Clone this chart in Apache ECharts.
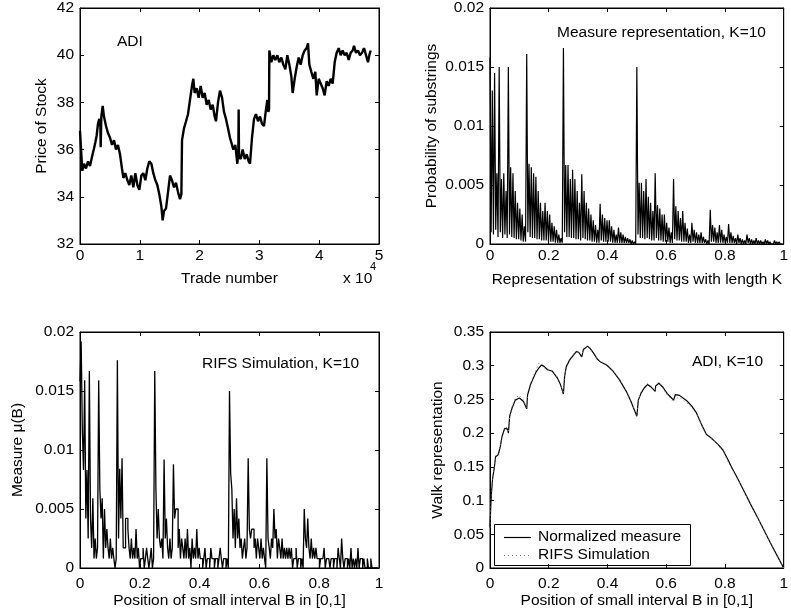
<!DOCTYPE html>
<html>
<head>
<meta charset="utf-8">
<title>ADI trade data</title>
<script src="https://cdn.jsdelivr.net/npm/echarts@6/dist/echarts.min.js"></script>
<style>html,body{margin:0;padding:0;background:#fff;}</style>
</head>
<body>
<div id="main" style="width:791px;height:614px;"></div>
<script type="text/javascript">
// ---- panel 1: ADI price vs trade number
var tradeNumber = [0,220,390,670,1000,1340,1670,2010,2340,2560,2790,3010,3230,3400,3460,3570,3790,4010,4350,4680,
  5020,5350,5690,6020,6350,6690,7020,7250,7580,7920,8250,8580,8920,9250,9590,9920,10260,10590,10930,11260,
  11590,11930,12260,12600,12930,13270,13600,13820,14050,14380,14720,15050,15380,15720,16050,16390,16720,16950,17060,17390,
  17730,18060,18390,18730,18950,19170,19510,19840,20180,20510,20850,21180,21520,21850,22190,22520,22740,23080,23410,23750,
  24080,24410,24750,25080,25310,25640,25980,26310,26480,26530,26590,26870,27200,27540,27870,28210,28430,28760,29100,29430,
  29770,30100,30430,30770,31100,31330,31490,31610,31660,32000,32330,32660,33000,33330,33670,34000,34340,34670,35010,35340,
  35560,35900,36230,36570,36900,37240,37570,37900,38130,38350,38680,39020,39350,39580,39910,40250,40580,40910,41250,41580,
  41920,42250,42590,42920,43260,43590,43920,44260,44590,44930,45260,45600,45820,46150,46490,46820,47160,47490,47830,48160,
  48380,48610];
var stockPrice = [36.8,35.8,35.1,35.4,35.2,35.5,35.3,35.7,36.05,36.3,36.6,37.1,37.3,37.0,36.1,37.4,37.85,37.4,37.0,36.7,
  36.5,36.2,36.4,36.0,36.2,35.8,35.2,34.8,35.0,34.7,34.5,34.9,34.4,35.0,34.5,34.3,34.9,35.0,34.7,35.2,
  35.5,35.4,35.0,34.7,34.5,34.1,33.6,33.0,33.4,33.5,34.2,34.9,34.7,34.4,34.6,34.2,33.9,34.1,36.4,36.9,
  37.2,37.5,38.1,38.7,39.0,38.4,38.6,38.2,38.7,38.2,38.4,37.9,38.1,37.7,37.9,37.4,37.2,38.0,38.5,38.2,
  37.6,37.3,36.9,36.5,36.3,36.0,36.2,35.4,35.9,37.7,35.7,35.6,36.0,35.6,35.8,35.5,35.4,36.5,37.3,37.5,
  37.2,37.4,37.1,37.0,37.7,38.1,37.6,37.7,40.2,39.7,40.0,39.8,40.0,39.7,39.9,39.6,39.4,40.0,39.6,39.1,
  38.4,39.0,39.5,39.9,39.6,40.0,40.2,40.3,40.5,39.6,39.3,39.0,39.3,38.3,39.0,38.8,38.6,38.3,38.9,38.7,
  39.0,38.8,39.7,40.1,40.3,40.0,40.2,40.0,40.1,39.8,40.1,40.2,40.4,40.1,40.2,40.0,40.1,40.3,40.0,39.7,
  40.0,40.2];

// ---- panel 2: measure representation, K=10 (values per bin of width 1/256)
var measureProb = [
  0.0158,0.0010,0.0130,0.0008,0.0145,0.0012,0.0060,0.0006,
  0.0150,0.0010,0.0055,0.0005,0.0060,0.0008,0.0045,0.0005,
  0.0150,0.0008,0.0065,0.0006,0.0060,0.0005,0.0045,0.0004,
  0.0035,0.0004,0.0030,0.0003,0.0025,0.0002,0.0015,0.0002,
  0.0161,0.0010,0.0068,0.0006,0.0065,0.0005,0.0060,0.0005,
  0.0057,0.0004,0.0045,0.0004,0.0035,0.0003,0.0028,0.0003,
  0.0035,0.0003,0.0028,0.0002,0.0025,0.0002,0.0018,0.0002,
  0.0015,0.0001,0.0012,0.0001,0.0008,0.0001,0.0005,0.0001,
  0.0166,0.0010,0.0067,0.0006,0.0067,0.0006,0.0055,0.0005,
  0.0063,0.0005,0.0055,0.0004,0.0045,0.0004,0.0035,0.0003,
  0.0059,0.0005,0.0045,0.0004,0.0035,0.0003,0.0030,0.0003,
  0.0025,0.0002,0.0020,0.0002,0.0016,0.0001,0.0012,0.0001,
  0.0034,0.0003,0.0025,0.0002,0.0022,0.0002,0.0020,0.0002,
  0.0020,0.0002,0.0015,0.0001,0.0012,0.0001,0.0008,0.0001,
  0.0014,0.0001,0.0010,0.0001,0.0008,0.0001,0.0006,0.0001,
  0.0005,0.0001,0.0004,0.0000,0.0003,0.0000,0.0002,0.0000,
  0.0150,0.0008,0.0052,0.0005,0.0052,0.0005,0.0045,0.0004,
  0.0055,0.0005,0.0040,0.0004,0.0035,0.0003,0.0028,0.0003,
  0.0060,0.0005,0.0033,0.0003,0.0030,0.0003,0.0025,0.0002,
  0.0025,0.0002,0.0018,0.0002,0.0014,0.0001,0.0010,0.0001,
  0.0055,0.0004,0.0032,0.0003,0.0028,0.0003,0.0022,0.0002,
  0.0028,0.0002,0.0018,0.0002,0.0013,0.0001,0.0008,0.0001,
  0.0018,0.0002,0.0012,0.0001,0.0010,0.0001,0.0008,0.0001,
  0.0010,0.0001,0.0006,0.0001,0.0004,0.0000,0.0003,0.0000,
  0.0029,0.0002,0.0016,0.0002,0.0014,0.0001,0.0010,0.0001,
  0.0016,0.0001,0.0012,0.0001,0.0008,0.0001,0.0006,0.0001,
  0.0017,0.0001,0.0010,0.0001,0.0007,0.0001,0.0005,0.0000,
  0.0008,0.0001,0.0005,0.0000,0.0004,0.0000,0.0003,0.0000,
  0.0008,0.0001,0.0005,0.0000,0.0004,0.0000,0.0003,0.0000,
  0.0005,0.0000,0.0003,0.0000,0.0003,0.0000,0.0002,0.0000,
  0.0004,0.0000,0.0003,0.0000,0.0002,0.0000,0.0001,0.0000,
  0.0003,0.0000,0.0002,0.0000,0.0002,0.0000,0.0001,0.0000];

// ---- panel 3: RIFS simulation, K=10 (bins of width 1/256)
var rifsMeasure = [
  0.0158,0.0192,0.0117,0.0083,0.0159,0.0042,0.0083,0.0025,
  0.0167,0.0042,0.0017,0.0059,0.0008,0.0025,0.0008,0.0017,
  0.0159,0.0067,0.0042,0.0059,0.0008,0.0050,0.0017,0.0033,
  0.0017,0.0008,0.0025,0.0008,0.0017,0.0008,0,0.0008,
  0.0176,0.0025,0.0084,0.0042,0.0093,0.0017,0.0017,0.0042,
  0.0042,0.0033,0.0017,0.0008,0.0025,0.0008,0.0017,0.0008,
  0.0033,0.0008,0.0017,0,0.0008,0.0008,0.0017,0,
  0.0008,0.0017,0.0008,0,0.0008,0.0017,0,0.0008,
  0.0167,0.0067,0.0025,0.0050,0.0025,0.0017,0.0025,0.0008,
  0.0092,0.0025,0.0042,0.0017,0.0008,0.0025,0.0008,0.0017,
  0.0088,0.0042,0.0050,0.0050,0.0017,0.0033,0.0008,0.0025,
  0.0017,0.0008,0.0025,0.0008,0.0033,0.0008,0.0017,0,
  0.0025,0.0008,0.0017,0.0008,0.0033,0.0008,0.0017,0.0008,
  0.0008,0,0.0008,0.0017,0,0.0008,0.0008,0,
  0.0017,0.0008,0.0008,0,0.0008,0.0008,0,0.0008,
  0.0017,0.0008,0,0.0008,0.0008,0,0.0008,0,
  0.0150,0.0080,0.0067,0.0025,0.0050,0.0017,0.0059,0.0025,
  0.0042,0.0017,0.0025,0.0008,0.0017,0.0025,0.0008,0.0017,
  0.0093,0.0033,0.0025,0.0033,0.0033,0.0017,0.0025,0.0008,
  0.0025,0.0017,0.0008,0.0025,0.0008,0.0017,0.0008,0,
  0.0093,0.0025,0.0017,0.0008,0.0025,0.0017,0.0050,0.0025,
  0.0033,0.0008,0.0025,0.0017,0.0008,0.0025,0.0008,0.0017,
  0.0008,0.0017,0.0008,0.0017,0.0008,0.0017,0,0.0008,
  0.0008,0.0017,0,0.0008,0.0008,0,0.0008,0,
  0.0050,0.0025,0.0017,0.0042,0.0017,0.0008,0.0025,0.0008,
  0.0017,0.0008,0.0017,0.0008,0.0008,0,0.0008,0.0008,
  0.0008,0.0017,0,0.0008,0.0008,0.0008,0,0.0008,
  0.0008,0,0.0008,0.0008,0,0.0017,0.0008,0,
  0.0025,0.0008,0,0.0008,0.0008,0,0.0008,0,
  0.0017,0,0.0008,0,0.0008,0,0.0017,0,
  0.0008,0.0008,0,0.0008,0,0,0.0008,0,
  0,0.0008,0,0,0,0,0,0];
var binCount = 256;

// ---- panel 4: walk representation
var walkPos = [0,0.003,0.0056,0.009,0.0145,0.019,0.028,0.0313,0.035,0.041,0.05,0.06,0.0625,0.067,0.075,0.086,0.1,0.114,0.125,0.128,
  0.138,0.145,0.156,0.167,0.175,0.184,0.196,0.212,0.229,0.24,0.25,0.254,0.26,0.272,0.285,0.294,0.302,0.3125,0.318,0.332,
  0.34,0.352,0.365,0.375,0.397,0.419,0.441,0.464,0.48,0.5,0.505,0.514,0.525,0.536,0.547,0.5625,0.564,0.575,0.589,0.603,
  0.614,0.625,0.631,0.645,0.67,0.687,0.703,0.72,0.737,0.75,0.76,0.777,0.793,0.81,0.821,0.844,0.866,0.888,0.911,0.933,
  0.955,0.978,1];
var walkNormalized = [0.06,0.095,0.115,0.133,0.148,0.165,0.168,0.166,0.18,0.195,0.207,0.206,0.2,0.225,0.237,0.249,0.252,0.247,0.236,0.257,
  0.272,0.279,0.29,0.297,0.301,0.299,0.294,0.292,0.282,0.272,0.258,0.284,0.299,0.309,0.316,0.321,0.32,0.313,0.324,0.329,
  0.326,0.319,0.31,0.306,0.301,0.292,0.279,0.262,0.247,0.225,0.249,0.259,0.267,0.272,0.269,0.262,0.27,0.274,0.268,0.259,
  0.254,0.249,0.257,0.256,0.248,0.24,0.23,0.213,0.198,0.194,0.19,0.183,0.175,0.161,0.151,0.132,0.113,0.094,0.075,0.056,
  0.037,0.018,0];
var walkRifs = [0.06,0.097,0.116,0.135,0.15,0.166,0.17,0.167,0.182,0.196,0.209,0.208,0.201,0.226,0.239,0.252,0.256,0.249,0.237,0.259,
  0.274,0.282,0.293,0.304,0.303,0.297,0.295,0.293,0.283,0.273,0.259,0.285,0.3,0.31,0.318,0.322,0.321,0.314,0.325,0.33,
  0.327,0.32,0.311,0.307,0.302,0.293,0.28,0.263,0.248,0.226,0.25,0.261,0.268,0.274,0.27,0.263,0.271,0.276,0.267,0.257,
  0.252,0.246,0.252,0.253,0.245,0.238,0.229,0.212,0.197,0.193,0.19,0.182,0.174,0.158,0.149,0.131,0.113,0.094,0.075,0.056,
  0.037,0.018,0];

var FONT = '"Liberation Sans", Arial, Helvetica, sans-serif';
var FS = 15.5;

function pairs(xs, ys) {
  var out = [];
  for (var i = 0; i < ys.length; i++) out.push([xs[i], ys[i]]);
  return out;
}
function binned(ys) {
  var out = [];
  for (var i = 0; i < ys.length; i++) out.push([i / binCount, ys[i]]);
  return out;
}

var grids = [
  {left: 80, top: 8, width: 299, height: 236},
  {left: 490, top: 8, width: 299, height: 236},
  {left: 80, top: 332, width: 299, height: 236},
  {left: 490, top: 332, width: 299, height: 236}
];

var axisLine = {show: true, onZero: false, lineStyle: {color: '#000', width: 1}};
var axisTick = {show: true, inside: true, length: 4, lineStyle: {color: '#000'}};

function mainX(g, min, max, step, name, gap, margin, fmt) {
  return {
    type: 'value', gridIndex: g, position: 'bottom', min: min, max: max, interval: step,
    name: name, nameLocation: 'middle', nameGap: gap,
    nameTextStyle: {color: '#000', fontFamily: FONT, fontSize: FS},
    axisLine: axisLine, axisTick: axisTick, splitLine: {show: false},
    axisLabel: {color: '#000', fontFamily: FONT, fontSize: FS, margin: margin, formatter: fmt}
  };
}
function mainY(g, min, max, step, name, gap) {
  return {
    type: 'value', gridIndex: g, position: 'left', min: min, max: max, interval: step,
    name: name, nameLocation: 'middle', nameGap: gap,
    nameTextStyle: {color: '#000', fontFamily: FONT, fontSize: FS},
    axisLine: axisLine, axisTick: axisTick, splitLine: {show: false},
    axisLabel: {color: '#000', fontFamily: FONT, fontSize: FS, margin: 6}
  };
}
function mirror(g, pos, min, max, step) {
  return {
    type: 'value', gridIndex: g, position: pos, min: min, max: max, interval: step,
    axisLine: axisLine, axisTick: axisTick, splitLine: {show: false},
    axisLabel: {show: false}
  };
}

var xAxes = [
  mainX(0, 0, 50000, 10000, 'Trade number', 27, 4, function (v) { return v / 10000; }),
  mainX(1, 0, 1, 0.2, 'Representation of substrings with length K', 28, 4),
  mainX(2, 0, 1, 0.2, 'Position of small interval B in [0,1]', 15, 8),
  mainX(3, 0, 1, 0.2, 'Position of small interval B in [0,1]', 15, 8),
  mirror(0, 'top', 0, 50000, 10000),
  mirror(1, 'top', 0, 1, 0.2),
  mirror(2, 'top', 0, 1, 0.2),
  mirror(3, 'top', 0, 1, 0.2)
];
var yAxes = [
  mainY(0, 32, 42, 2, 'Price of Stock', 30),
  mainY(1, 0, 0.02, 0.005, 'Probability of substrings', 50),
  mainY(2, 0, 0.02, 0.005, 'Measure \u03bc(B)', 54),
  mainY(3, 0, 0.35, 0.05, 'Walk representation', 44),
  mirror(0, 'right', 32, 42, 2),
  mirror(1, 'right', 0, 0.02, 0.005),
  mirror(2, 'right', 0, 0.02, 0.005),
  mirror(3, 'right', 0, 0.35, 0.05)
];

function label(x, y, text, size) {
  return {
    type: 'text', x: x, y: y, silent: true, z: 100,
    style: {text: text, fill: '#000', font: (size || FS) + 'px ' + FONT, verticalAlign: 'middle'}
  };
}

// legend box of the walk panel
var legendBox = {
  type: 'group', z: 100, silent: true,
  children: [
    {type: 'rect', shape: {x: 494.5, y: 524.5, width: 196, height: 41},
      style: {fill: '#fff', stroke: '#000', lineWidth: 1}},
    {type: 'line', shape: {x1: 504, y1: 537.5, x2: 531, y2: 537.5},
      style: {stroke: '#000', lineWidth: 1.2}},
    {type: 'line', shape: {x1: 504, y1: 555.5, x2: 531, y2: 555.5},
      style: {stroke: '#777', lineWidth: 1, lineDash: [1, 3]}},
    {type: 'text', x: 538, y: 537, style: {text: 'Normalized measure', fill: '#000', font: FS + 'px ' + FONT, verticalAlign: 'middle'}},
    {type: 'text', x: 538, y: 555, style: {text: 'RIFS Simulation', fill: '#000', font: FS + 'px ' + FONT, verticalAlign: 'middle'}}
  ]
};

var myChart = echarts.init(document.getElementById('main'), null, {renderer: 'canvas'});

var option = {
  animation: false,
  backgroundColor: '#fff',
  grid: grids.map(function (g) {
    return {left: g.left, top: g.top, width: g.width, height: g.height, show: true,
      borderColor: '#000', borderWidth: 1, backgroundColor: 'transparent', containLabel: false};
  }),
  xAxis: xAxes,
  yAxis: yAxes,
  graphic: [
    label(117, 42, 'ADI'),
    label(343, 279, 'x 10'),
    label(370, 267, '4', 11),
    label(557, 33, 'Measure representation, K=10'),
    label(202, 364, 'RIFS Simulation, K=10'),
    label(692, 362, 'ADI, K=10'),
    legendBox
  ],
  series: [
    {
      name: 'ADI price', type: 'line', xAxisIndex: 0, yAxisIndex: 0,
      data: pairs(tradeNumber, stockPrice), showSymbol: false, symbol: 'none',
      lineStyle: {color: '#000', width: 2.4}
    },
    {
      name: 'Measure representation', type: 'line', xAxisIndex: 1, yAxisIndex: 1,
      data: binned(measureProb), showSymbol: false, symbol: 'none',
      lineStyle: {color: '#000', width: 1.2}
    },
    {
      name: 'RIFS measure', type: 'line', xAxisIndex: 2, yAxisIndex: 2, step: 'end',
      data: binned(rifsMeasure), showSymbol: false, symbol: 'none',
      lineStyle: {color: '#000', width: 1.3}
    },
    {
      name: 'Normalized measure', type: 'line', xAxisIndex: 3, yAxisIndex: 3,
      data: pairs(walkPos, walkNormalized), showSymbol: false, symbol: 'none',
      lineStyle: {color: '#000', width: 1.2}
    },
    {
      name: 'RIFS Simulation', type: 'line', xAxisIndex: 3, yAxisIndex: 3,
      data: pairs(walkPos, walkRifs), showSymbol: false, symbol: 'none',
      lineStyle: {color: '#777', width: 1, type: [1, 3]}
    }
  ]
};

myChart.setOption(option);
</script>
</body>
</html>
